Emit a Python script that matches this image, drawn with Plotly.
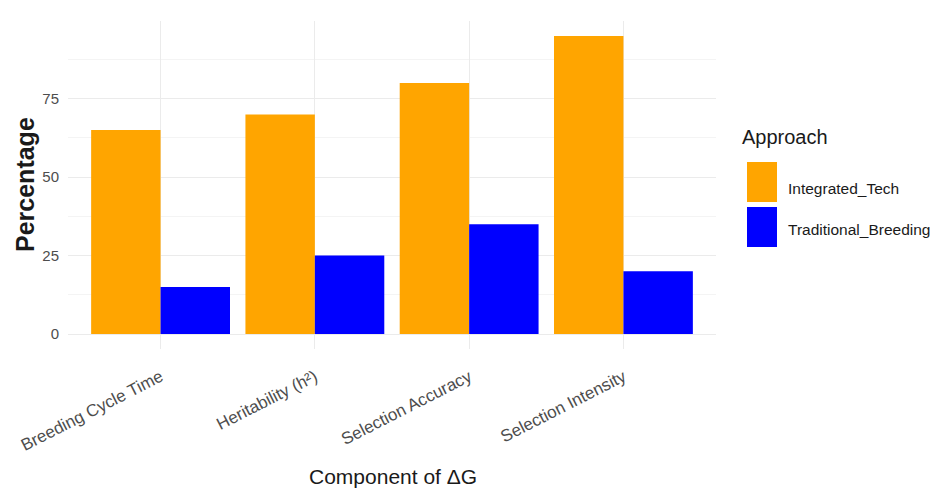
import plotly.graph_objects as go

categories = ["Breeding Cycle Time", "Heritability (h²)", "Selection Accuracy", "Selection Intensity"]
integrated_tech = [65, 70, 80, 95]
traditional_breeding = [15, 25, 35, 20]
series_names = ["Integrated_Tech", "Traditional_Breeding"]
series_colors = ["#FFA500", "#0000FF"]
y_ticks = [0, 25, 50, 75]

FONT = "Liberation Sans Narrow, Arial Narrow, Liberation Sans, Arial, sans-serif"

# page has an 8px body margin; figure sized to fit inside the window
OFF = 8
W, H = 945 - 2 * OFF, 497 - 2 * OFF
# target plot area in page pixels
PL, PR, PT, PB = 68, 716, 21, 349
L, T = PL - OFF, PT - OFF
R, B = W - (PR - OFF), H - (PB - OFF)
PW, PH = W - L - R, H - T - B

def px(x):
    return (x - OFF - L) / PW

def py(y):
    return (H - B - (y - OFF)) / PH

fig = go.Figure()
for name, vals, col in zip(series_names, [integrated_tech, traditional_breeding], series_colors):
    fig.add_trace(go.Bar(x=categories, y=vals, name=name, marker=dict(color=col, line=dict(width=0)),
                         showlegend=False))

fig.update_layout(
    width=W, height=H,
    margin=dict(l=L, r=R, t=T, b=B, autoexpand=False),
    paper_bgcolor="white", plot_bgcolor="white",
    barmode="group", bargap=0.1, bargroupgap=0,
    font=dict(family=FONT, color="#4d4d4d"),
    xaxis=dict(
        range=[-0.6, 3.6], tickangle=-27, showgrid=True, gridcolor="#ebebeb", gridwidth=1,
        tickfont=dict(size=17, color="#4d4d4d"), showline=False, zeroline=False, ticks="",
        ticklabelstandoff=14, automargin=False,
    ),
    yaxis=dict(
        range=[-4.75, 99.75], tickvals=y_ticks, showgrid=True, gridcolor="#ebebeb", gridwidth=1,
        minor=dict(tickvals=[12.5, 37.5, 62.5, 87.5], showgrid=True, gridcolor="#f4f4f4", gridwidth=1),
        tickfont=dict(size=15, color="#4d4d4d"), zeroline=False, showline=False, ticks="",
        ticklabelstandoff=8, automargin=False,
    ),
)

# Axis titles
fig.add_annotation(xref="paper", yref="paper", x=px(393), y=py(476), text="Component of ΔG",
                   showarrow=False, xanchor="center", yanchor="middle",
                   font=dict(size=21, color="#1a1a1a", family=FONT))
fig.add_annotation(xref="paper", yref="paper", x=px(25), y=py(185), text="<b>Percentage</b>",
                   showarrow=False, xanchor="center", yanchor="middle", textangle=-90,
                   font=dict(size=25, color="#1a1a1a", family="Liberation Sans, Arial, sans-serif"))

# Legend drawn as layout decorations (ggplot-style large keys)
fig.add_annotation(xref="paper", yref="paper", x=px(740), y=py(137),
                   text="Approach", showarrow=False, xanchor="left", yanchor="middle",
                   font=dict(size=20, color="#1a1a1a", family=FONT))
key_tops = [162, 207]
label_centers = [188, 229]
for name, col, top, yc in zip(series_names, series_colors, key_tops, label_centers):
    fig.add_shape(type="rect", xref="paper", yref="paper", x0=px(747), x1=px(777),
                  y0=py(top + 40), y1=py(top), fillcolor=col, line=dict(width=0))
    fig.add_annotation(xref="paper", yref="paper", x=px(786), y=py(yc),
                       text=name, showarrow=False, xanchor="left", yanchor="middle",
                       font=dict(size=15.5, color="#1a1a1a", family=FONT))

fig.write_html("out.html")
